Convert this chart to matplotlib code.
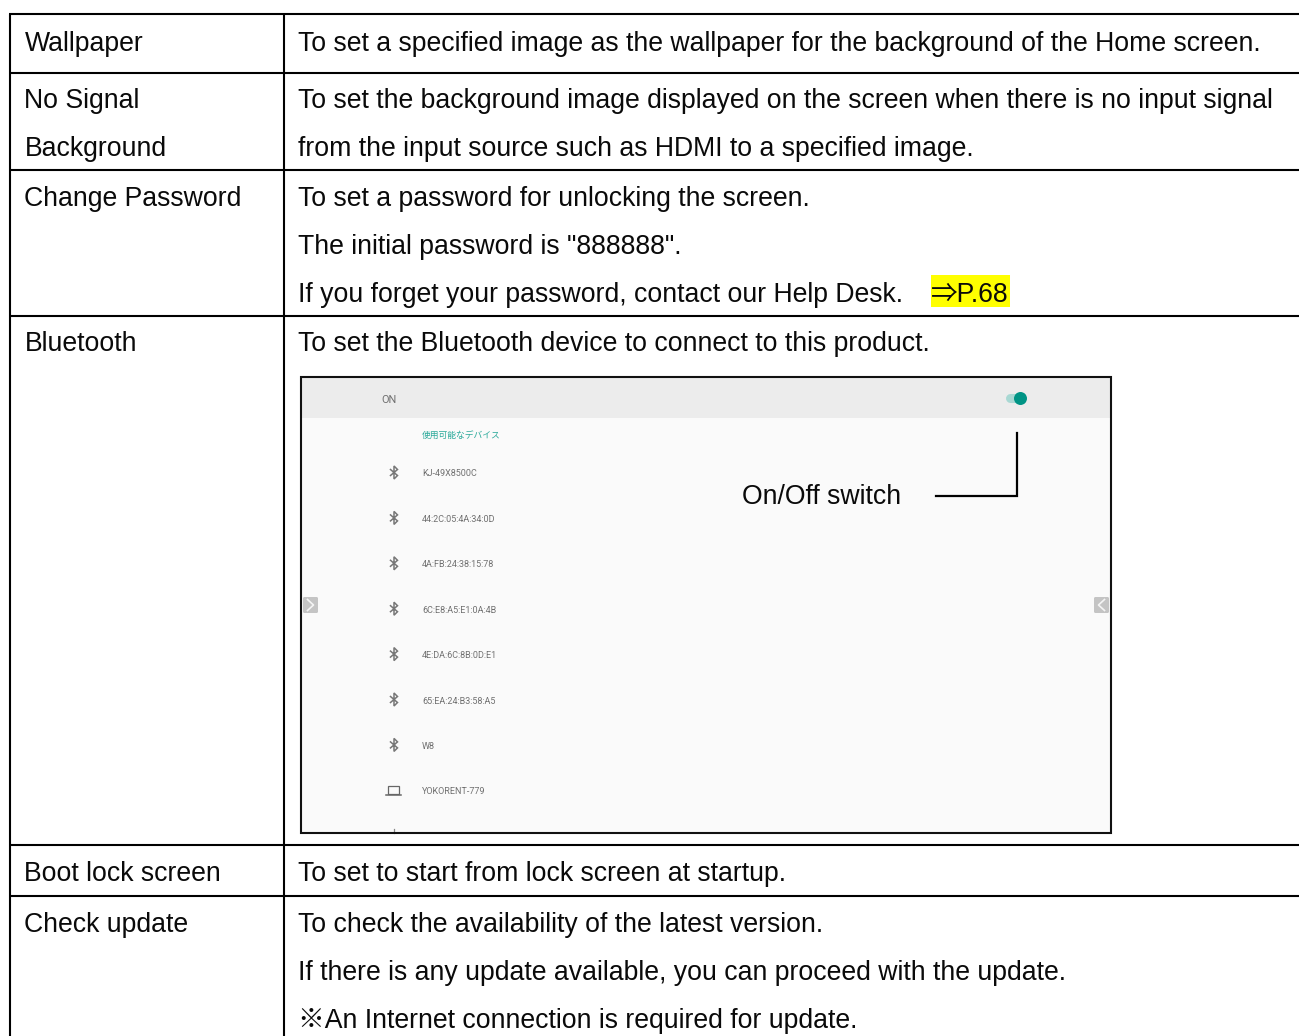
import matplotlib

matplotlib.use("Agg")
import matplotlib.pyplot as plt
from matplotlib.patches import FancyBboxPatch, Rectangle

W, H = 1299, 1036
FONT = ["Liberation Sans", "Noto Sans CJK JP", "DejaVu Sans"]
PX = 0.72  # points per pixel at dpi 100
BODY = 26.65 * PX
INK = "#0a0a0a"

left_labels = ["Wallpaper", "No Signal", "Background", "Change Password",
               "Bluetooth", "Boot lock screen", "Check update"]
left_baselines = [50.6, 107.6, 155.6, 205.6, 350.6, 880.6, 931.6]

right_lines = [
    "To set a specified image as the wallpaper for the background of the Home screen.",
    "To set the background image displayed on the screen when there is no input signal",
    "from the input source such as HDMI to a specified image.",
    "To set a password for unlocking the screen.",
    'The initial password is "888888".',
    "If you forget your password, contact our Help Desk.",
    "To set the Bluetooth device to connect to this product.",
    "To set to start from lock screen at startup.",
    "To check the availability of the latest version.",
    "If there is any update available, you can proceed with the update.",
    "※An Internet connection is required for update.",
]
right_baselines = [50.6, 107.6, 155.6, 205.6, 253.6, 301.6, 350.6, 880.6, 931.6, 979.6, 1027.6]

row_lines = [14, 72.5, 170, 315.5, 845, 896]
devices = ["KJ-49X8500C", "44:2C:05:4A:34:0D", "4A:FB:24:38:15:78", "6C:E8:A5:E1:0A:4B",
           "4E:DA:6C:8B:0D:E1", "65:EA:24:B3:58:A5", "W8", "YOKORENT-779"]


def bt_icon(ax, cx, cy):
    xs = [-3.5, 3.5, 0, 0, 3.5, -3.5]
    ys = [-3, 3, 6.5, -6.5, -3, 3]
    ax.plot([cx + x for x in xs], [cy + y for y in ys], color="#777777", lw=1.1,
            solid_joinstyle="miter", zorder=4)


def laptop_icon(ax, cx, cy):
    ax.add_patch(Rectangle((cx - 5.5, cy - 4.5), 11, 8, fc="none", ec="#666666", lw=0.9, zorder=4))
    ax.plot([cx - 7.5, cx + 7.5], [cy + 5, cy + 5], color="#666666", lw=1.1, zorder=4)


def chevron_tab(ax, x0, y0, direction):
    ax.add_patch(FancyBboxPatch((x0 + 1, y0 + 1), 13, 14, boxstyle="round,pad=1,rounding_size=1.5",
                                fc="#c4c4c4", ec="none", zorder=3))
    mid = x0 + 7.5
    d = 3 * direction
    ax.plot([mid - d, mid + d, mid - d], [y0 + 2.5, y0 + 8, y0 + 13.5],
            color="#f4f4f4", lw=1.2, zorder=4)


fig = plt.figure(figsize=(W / 100, H / 100), dpi=100)
ax = fig.add_axes([0, 0, 1, 1])
ax.set_xlim(0, W)
ax.set_ylim(H, 0)
ax.axis("off")

for y in row_lines:
    ax.plot([9, W], [y, y], color="black", lw=1.5, solid_capstyle="butt")
for x in (10, 284):
    ax.plot([x, x], [14, H], color="black", lw=1.5, solid_capstyle="butt")

for label, y in zip(left_labels, left_baselines):
    ax.text(24.5, y, label, family=FONT, fontsize=BODY, va="baseline", color=INK)
for line, y in zip(right_lines, right_baselines):
    ax.text(298, y, line, family=FONT, fontsize=BODY, va="baseline", color=INK)

# page reference with highlighter behind it
ax.add_patch(Rectangle((931, 275), 79, 32, fc="#ffff00", ec="none", zorder=1))
ax.text(931, 301.6, "⇒P.68", family=FONT, fontsize=BODY, va="baseline", color=INK, zorder=2)

# embedded settings screenshot
ax.add_patch(Rectangle((301, 377), 810, 456, fc="#fafafa", ec="none", zorder=1))
ax.add_patch(Rectangle((301, 377), 810, 41, fc="#ececec", ec="none", zorder=1.5))
ax.add_patch(Rectangle((301, 377), 810, 456, fc="none", ec="#111111", lw=1.5, zorder=5))
ax.text(381, 403, "ON", family="Roboto", fontsize=11 * PX, color="#707070", va="baseline")
ax.text(422, 438.5, "使用可能なデバイス", family=FONT, fontsize=8.8 * PX, color="#2aa99a", va="baseline")

ax.plot([1010, 1018], [398, 398], color="#a8d8d3", lw=6.5, solid_capstyle="round", zorder=3)
ax.plot([1020], [398], marker="o", ms=13 * PX, color="#009485", mec="none", zorder=4)

for i, name in enumerate(devices):
    y = 472.5 + 45.4 * i
    ax.text(422, y + 4, name, family="Roboto", fontsize=9 * PX, color="#707070", va="baseline")
    if name == "YOKORENT-779":
        laptop_icon(ax, 394, y)
    else:
        bt_icon(ax, 394, y)

# tip of the next icon, cut by the screenshot edge
ax.plot([394, 394], [829, 832.5], color="#888888", lw=0.9, zorder=4)

chevron_tab(ax, 303, 597, 1)
chevron_tab(ax, 1094, 597, -1)

# callout for the switch
ax.plot([936, 1017.5, 1017.5], [496, 496, 433], color="black", lw=1.6,
        solid_joinstyle="miter", zorder=6)
ax.text(742, 503.6, "On/Off switch", family=FONT, fontsize=BODY, va="baseline", color=INK, zorder=6)

fig.savefig("out.png", dpi=100)
